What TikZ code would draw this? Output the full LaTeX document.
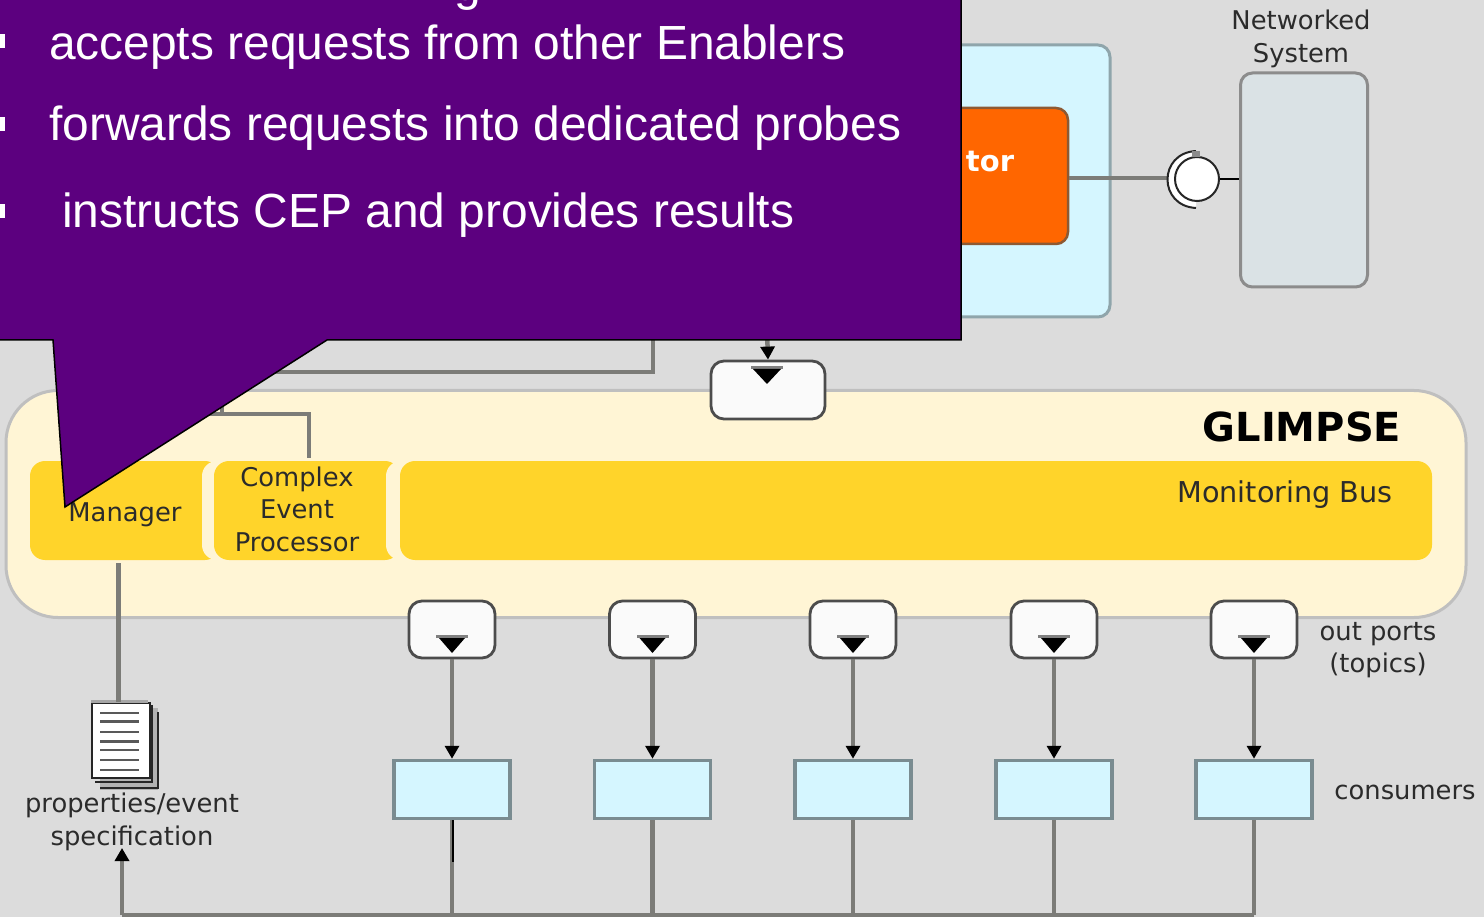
\documentclass[tikz,border=0pt]{standalone}
\usepackage{fontspec}
\setmainfont{Liberation Sans}
\newfontfamily\vera{DejaVu Sans}
\usetikzlibrary{arrows.meta}
\definecolor{bgc}{HTML}{DCDCDC}
\definecolor{purp}{HTML}{5C007F}
\definecolor{creamc}{HTML}{FFF5D5}
\definecolor{yel}{HTML}{FFD42A}
\definecolor{bluec}{HTML}{D5F6FF}
\definecolor{bedge}{HTML}{8FA5AB}
\definecolor{org}{HTML}{FF6600}
\definecolor{sysc}{HTML}{DAE2E5}
\definecolor{wire}{HTML}{7C7C78}
\definecolor{txt}{HTML}{2B2B2B}
\tikzset{
  x=1pt,y=-1pt,
  wirel/.style={draw=wire,line width=4.5pt},
  wiretip/.style={wirel,-{Triangle[black,length=13pt,width=14pt]}},
  lab/.style={font=\vera\fontsize{25.8}{32.5}\selectfont,text=txt,align=center,inner sep=0pt},
  bul/.style={font=\fontsize{47.9}{52}\selectfont,text=white,anchor=base west,inner sep=0pt},
  bsq/.style={fill=white,draw=none,minimum width=5pt,minimum height=14pt,inner sep=0pt,anchor=west},
  portbox/.style={draw=black!70,fill=white!98!black,line width=2.8pt,rounded corners=13pt,inner sep=0pt,minimum width=86pt,minimum height=57pt},
  tri/.style={fill=black,draw=none},
  cons/.style={draw=bedge!85!black,fill=bluec,line width=3.5pt,inner sep=0pt,minimum width=116pt,minimum height=58pt},
}
\begin{document}
\begin{tikzpicture}
\useasboundingbox (0,0) rectangle (1484,917);
\clip (0,0) rectangle (1484,917);
\fill[bgc] (0,0) rectangle (1484,917);

% upper blue box and orange block
\node[draw=bedge,fill=bluec,line width=3pt,rounded corners=12pt,minimum width=350pt,minimum height=272pt,inner sep=0pt] (upper) at (935,181) {};
\node[draw=black!45!org!70!bedge,fill=org,line width=2.5pt,rounded corners=12pt,minimum width=268pt,minimum height=136pt,inner sep=0pt] (orange) at (934,176) {};
\node[font=\vera\bfseries\fontsize{29}{32}\selectfont,text=white,inner sep=0pt] (tor) at (990,162) {tor};

% networked system
\node[draw=black!45,fill=sysc,line width=3pt,rounded corners=12pt,minimum width=127pt,minimum height=214pt,inner sep=0pt] (system) at (1304,180) {};
\node[lab] (systxt) at (1301,39) {Networked\\System};
\coordinate (sockw) at (1167,178);
\draw[wirel] (orange.east |- sockw) -- (sockw);
\draw[black!85,fill=white,line width=2pt] (1196,151) .. controls (1158,153) and (1158,206) .. (1196,208);
\node[circle,draw=black!85,fill=white,line width=2pt,minimum size=44pt,inner sep=0pt] (ball) at (1197,179) {};
\draw[black,line width=2pt] (ball.east) -- (system.west |- ball.east);
\fill[black!45] (1192,151) rectangle (1200,157);

% GLIMPSE
\node[draw=black!25,fill=creamc,line width=3pt,rounded corners=52pt,minimum width=1460pt,minimum height=227pt,inner sep=0pt] (glimpse) at (736,504) {};
\node[font=\vera\bfseries\fontsize{40}{44}\selectfont,text=black,inner sep=0pt] (gtxt) at (1302,427) {GLIMPSE};

\node[fill=yel,rounded corners=15pt,minimum width=190pt,minimum height=99pt,inner sep=0pt] (manager) at (125,510.5) {};
\node[fill=creamc,rounded corners=15pt,minimum width=50pt,minimum height=99pt,inner sep=0pt] (gapa) at (227,510.5) {};
\node[fill=yel,rounded corners=15pt,minimum width=186pt,minimum height=99pt,inner sep=0pt] (cep) at (307,510.5) {};
\node[fill=creamc,rounded corners=15pt,minimum width=50pt,minimum height=99pt,inner sep=0pt] (gapb) at (411,510.5) {};
\node[fill=yel,rounded corners=15pt,minimum width=1032pt,minimum height=99pt,inner sep=0pt] (bus) at (916,510.5) {};
\node[lab] (mantxt) at (125,515) {Manager};
\node[lab] (ceptxt) at (297,509) {Complex\\Event\\Processor};
\node[lab,font=\vera\fontsize{28.7}{32}\selectfont] (bustxt) at (1285,495) {Monitoring Bus};

% wires at top
\coordinate (j1) at (653,372);
\coordinate (j2) at (200,372);
\coordinate (j3) at (653,330);
\coordinate (k1) at (222,400);
\coordinate (k2) at (222,414);
\coordinate (k3) at (200,414);
\coordinate (k4) at (309,414);
\coordinate (k5) at (309,458);
\draw[wirel] (j3) -- (j1) -- (j2);
\draw[wirel] (k1) -- (k2);
\draw[wirel] (k3) -- (k4) -- (k5);

% top port
\coordinate (tp) at (767,330);
\node[portbox,minimum width=114pt,minimum height=58pt] (ptop) at (768,390) {};
\draw[wiretip] (tp) -- (ptop.north);
\fill[black!50] (751,366) rectangle (783,369);
\fill[tri] (753,369) -- (781,369) -- (767,384) -- cycle;

% out ports and consumers
\coordinate (m0) at (118.5,563);
\node[lab] (prop) at (132,822) {properties/event\\specification};
\coordinate (busl) at (122,915);
\foreach \n/\x in {a/452,b/652.5,c/853,d/1054,e/1254}{
  \node[portbox] (p\n) at (\x,629.5) {};
  \fill[black!50] (\x-16,635) rectangle (\x+16,638);
  \fill[tri] (\x-13,638) -- (\x+13,638) -- (\x,653) -- cycle;
  \node[cons] (c\n) at (\x,789.5) {};
  \draw[wiretip] (p\n.south) -- (c\n.north);
  \coordinate (b\n) at (\x,915);
  \draw[wirel] (c\n.south) -- (b\n);
}
\draw[wirel,line width=4pt] (busl) -- (be);
\draw[wiretip] (busl) -- (122,848);
\coordinate (bk) at (453,862);
\draw[black,line width=2.4pt] (ca.south) ++(1,0) -- (bk);
\node[lab] (oport) at (1378,650) {out ports\\(topics)};
\node[lab] (constxt) at (1405,792) {consumers};

% document icon
\fill[black!30] (100,708) rectangle (158,790);
\draw[black!85,line width=1.8pt] (158,712) -- (158,788) -- (100,788);
\draw[black!85,line width=1.8pt] (152,705) -- (152,782) -- (95,782);
\node[draw=black!85,fill=white,line width=2pt,minimum width=58pt,minimum height=75pt,inner sep=0pt] (doc) at (121,740.5) {};
\fill[black!35] (91,700) rectangle (148,703);
\draw[wirel] (m0) -- (doc.north -| m0);
\foreach \y in {713,721.5,732,741.5,750,760,770}{\draw[black!65,line width=2.6pt] (100,\y) -- (139,\y);}

% callout
\draw[black,fill=purp,line width=1.5pt] (-5,-5) -- (961,-5) -- (961,340) -- (327,340) -- (65,507) -- (53,340) -- (-5,340) -- cycle;
\node[font=\fontsize{47.9}{52}\selectfont,text=white,inner sep=0pt,anchor=base] (gtop) at (468,1) {g};
\node[bul] (l1) at (49,60) {accepts requests from other Enablers};
\node[bul] (l2) at (49,141) {forwards requests into dedicated probes};
\node[bul] (l3) at (62,228) {instructs CEP and provides results};
\node[bsq] (s1) at (0,41) {};
\node[bsq] (s2) at (0,124) {};
\node[bsq] (s3) at (0,211) {};
\end{tikzpicture}
\end{document}
